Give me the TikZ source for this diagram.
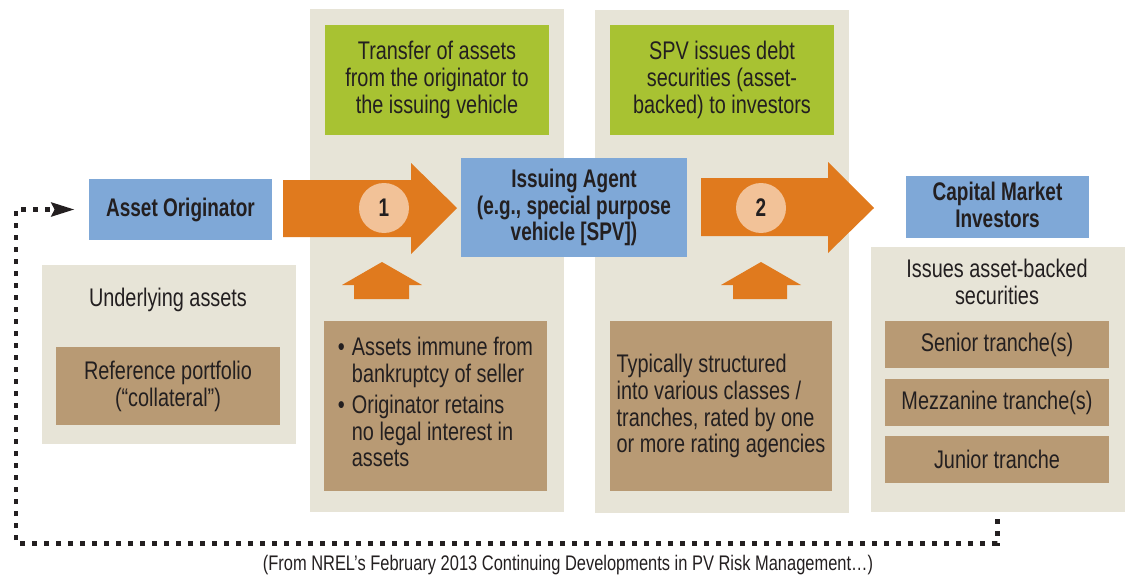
\documentclass[tikz,border=0pt]{standalone}
\usepackage{fontspec}
\setmainfont{Liberation Sans}[FakeStretch=0.78]
\newfontfamily\headfont{Liberation Sans}[FakeStretch=0.745]
\usetikzlibrary{arrows.meta}

\definecolor{cPanel}{HTML}{E7E4D7}
\definecolor{cTan}{HTML}{B89A74}
\definecolor{cBlue}{HTML}{7FA8D7}
\definecolor{cGreen}{HTML}{A8C232}
\definecolor{cOrange}{HTML}{E07A1E}
\definecolor{cPeach}{HTML}{F2C298}
\definecolor{cInk}{HTML}{231F20}

\begin{document}
\begin{tikzpicture}[x=0.02cm,y=-0.02cm,
    txt/.style={text=cInk,align=center,inner sep=0pt,font=\fontsize{14.5}{15.3}\selectfont},
    head/.style={txt,font=\headfont\bfseries\fontsize{14.5}{15.3}\selectfont},
    greenbox/.style={txt,fill=cGreen,minimum width=4.48cm,minimum height=2.2cm},
    tanbox/.style={txt,fill=cTan,minimum width=4.48cm},
    bluebox/.style={head,fill=cBlue},
    numdisc/.style={head,circle,fill=cPeach,minimum size=1.0cm},
    blockarr/.style={fill=cOrange},
    loopline/.style={draw=cInk,line width=0.1cm,dash pattern=on 0.1cm off 0.14cm,
        -{Stealth[length=0.46cm,width=0.27cm,inset=0.06cm]},shorten >=0.28cm}]
    \useasboundingbox (0,0) rectangle (1125,575);
    \fill[cPanel] (42,265) rectangle (296,444);
    \fill[cPanel] (310,9) rectangle (564,512);
    \fill[cPanel] (595,10) rectangle (849,513);
    \fill[cPanel] (871,247) rectangle (1125,512);

    \node[greenbox] (xfer) at (437,80) {Transfer of assets\\from the originator to\\the issuing vehicle};
    \node[greenbox] (debt) at (722,80) {SPV issues debt\\securities (asset-\\backed) to investors};

    \fill[blockarr] (283,180) -- (411,180) -- (411,163) -- (457,208) -- (411,254) -- (411,237) -- (283,237) -- cycle;
    \fill[blockarr] (701,178) -- (828,178) -- (828,162) -- (874,208) -- (828,253) -- (828,236) -- (701,236) -- cycle;
    \fill[blockarr] (354,299) -- (354,285) -- (342,285) -- (382,262) -- (422,285) -- (409,285) -- (409,299) -- cycle;
    \fill[blockarr] (733,299) -- (733,285) -- (721,285) -- (761,262) -- (801,285) -- (787,285) -- (787,299) -- cycle;

    \node[bluebox,minimum width=3.66cm,minimum height=1.22cm] (orig) at (180.5,209.5) {Asset Originator};
    \node[bluebox,minimum width=4.52cm,minimum height=1.98cm,align=center] (spv) at (574,207.5) {Issuing Agent\\(e.g., special purpose\\vehicle [SPV])};
    \node[bluebox,minimum width=3.66cm,minimum height=1.24cm,align=center,text depth=0.1cm] (inv) at (997.5,207) {Capital Market\\Investors};
    \node[numdisc] (one) at (384,208) {1};
    \node[numdisc] (two) at (761,208) {2};

    \node[txt] (under) at (168,300) {Underlying assets};
    \node[tanbox,minimum height=1.56cm] (refport) at (168,386) {Reference portfolio\\(“collateral”)};
    \node[tanbox,minimum width=4.46cm,minimum height=3.4cm] (immune) at (435.5,406) {%
        \begin{tabular}{@{}l@{\hspace{4pt}}l@{}}
        • & Assets immune from\\
          & bankruptcy of seller\\[2pt]
        • & Originator retains\\
          & no legal interest in\\
          & assets
        \end{tabular}};
    \node[tanbox,minimum width=4.46cm,minimum height=3.4cm,align=left] (classes) at (721,406) {Typically structured\\into various classes /\\tranches, rated by one\\or more rating agencies};

    \node[txt] (issues) at (997,282) {Issues asset-backed\\securities};
    \node[tanbox,minimum height=0.94cm] (senior) at (997,344.5) {Senior tranche(s)};
    \node[tanbox,minimum height=0.94cm] (mezz) at (997,402.5) {Mezzanine tranche(s)};
    \node[tanbox,minimum height=0.94cm] (junior) at (997,459.5) {Junior tranche};

    \coordinate (ret) at (997,519);
    \coordinate (corner) at (16,543);
    \draw[loopline] (ret) |- (corner) |- (orig);

    \node[txt,font=\fontsize{12}{13}\selectfont] (src) at (568,565) {(From NREL’s February 2013 Continuing Developments in PV Risk Management…)};
\end{tikzpicture}
\end{document}
